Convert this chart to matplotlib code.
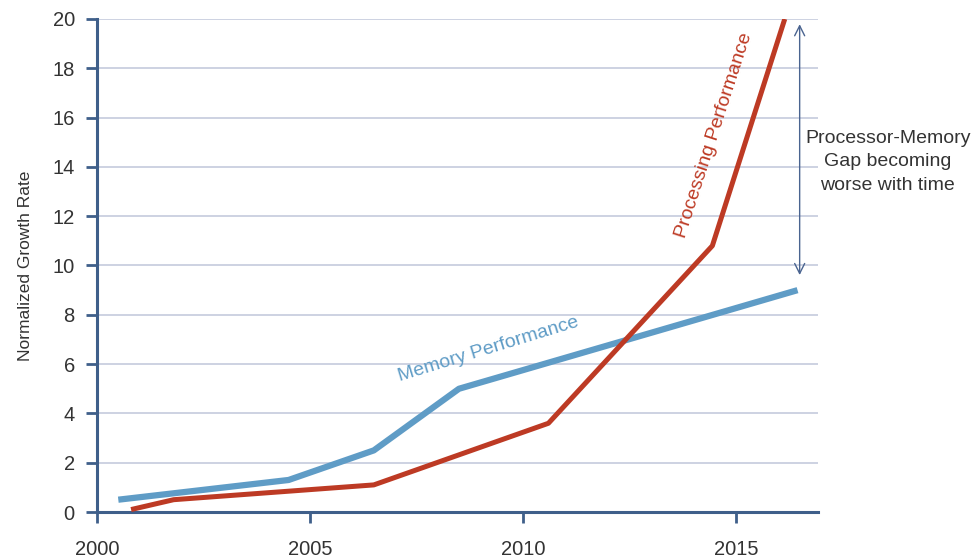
import matplotlib.pyplot as plt

plt.rcParams['font.family'] = ['Liberation Sans', 'DejaVu Sans']

# memory performance curve
mem_year = [2000.5, 2004.5, 2006.5, 2008.5, 2016.45]
mem_rate = [0.5, 1.3, 2.5, 5.0, 9.0]
# processing performance curve
cpu_year = [2000.8, 2001.8, 2006.5, 2010.6, 2014.45, 2016.15]
cpu_rate = [0.1, 0.5, 1.1, 3.6, 10.8, 20.0]

year_ticks = [2000, 2005, 2010, 2015]
rate_ticks = [0, 2, 4, 6, 8, 10, 12, 14, 16, 18, 20]

axis_col = '#3f5f8a'
blue = '#5f9cc6'
red = '#bd3a24'

fig = plt.figure(figsize=(9.71, 5.58), dpi=100)
ax = fig.add_axes([0.0999, 0.0824, 0.7425, 0.8836])

ax.plot(mem_year, mem_rate, color=blue, lw=4.5, solid_capstyle='butt', zorder=3)
ax.plot(cpu_year, cpu_rate, color=red, lw=3.6, solid_capstyle='butt', zorder=4)

ax.set_xlim(2000, 2016.93)
ax.set_ylim(0, 20)
ax.set_xticks(year_ticks)
ax.set_yticks(rate_ticks)
ax.grid(axis='y', color='#c9cfdf', lw=1.3, zorder=0)
ax.set_axisbelow(True)

for s in ['top', 'right']:
    ax.spines[s].set_visible(False)
for s in ['left', 'bottom']:
    ax.spines[s].set_color(axis_col)
    ax.spines[s].set_linewidth(2.2)
ax.tick_params(colors=axis_col, width=2, length=8, labelsize=14.5, labelcolor='#333333')
ax.tick_params(axis='x', pad=12)
ax.tick_params(axis='y', pad=8)
ax.set_ylabel('Normalized Growth Rate', fontsize=12.5, color='#333333', labelpad=14)

# series labels along the lines
ax.text(2009.2, 6.6, 'Memory Performance', color=blue, fontsize=14,
        rotation=17, ha='center', va='center')
ax.text(2014.5, 15.3, 'Processing Performance', color=red, fontsize=14,
        rotation=72, ha='center', va='center')

# gap arrow and note
ax.annotate('', xy=(2016.5, 19.9), xytext=(2016.5, 9.5),
            arrowprops=dict(arrowstyle='<->', color='#4a6490', lw=1.0,
                            mutation_scale=18), annotation_clip=False)
ax.text(2018.57, 14.2, 'Processor-Memory\nGap becoming\nworse with time',
        fontsize=14, color='#333333', ha='center', va='center',
        linespacing=1.5, clip_on=False)

fig.savefig('out.png', dpi=100)
